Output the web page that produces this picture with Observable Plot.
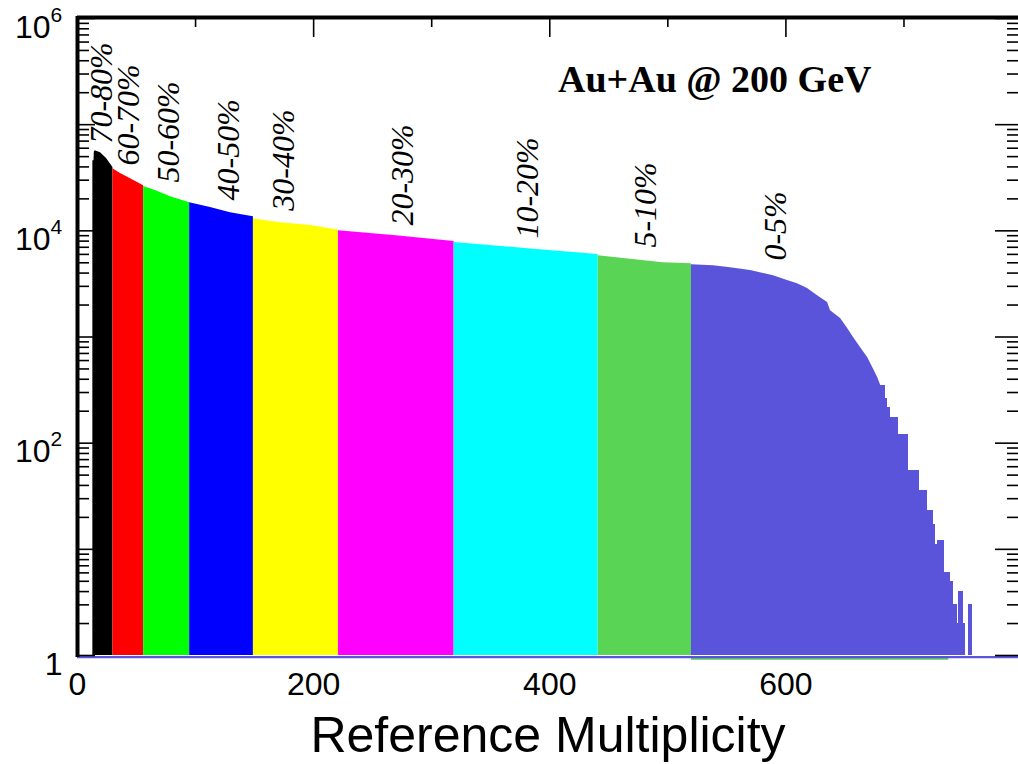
<!DOCTYPE html>
<html><head><meta charset="utf-8">
<script src="https://cdn.jsdelivr.net/npm/d3@7"></script>
<script src="https://cdn.jsdelivr.net/npm/@observablehq/plot@0.6"></script>
<style>
html,body{margin:0;padding:0;background:#fff;overflow:hidden}
</style></head><body><div id="chart"></div>
<script>
// ---- data ----
const classLabels = ["70-80%","60-70%","50-60%","40-50%","30-40%","20-30%","10-20%","5-10%","0-5%"];
const classColors = ["#000000","#ff0000","#00ff00","#0000ff","#ffff00","#ff00ff","#00ffff","#59d454","#5954d9"];

// upper envelope of each centrality-class histogram (reference multiplicity, counts)
const envelopeMult = [
  [13, 14, 14.2, 15, 19.5, 24.6, 30],
  [30, 36.4, 44.9, 56],
  [56, 66, 78.8, 95],
  [95, 112.6, 129.6, 149],
  [149, 172, 197.3, 221],
  [221, 270, 319],
  [319, 384, 441],
  [441, 496, 520],
  [520, 538.7, 553.1, 570, 589.5, 601.3, 609.8, 618.3, 626.8, 635.3, 637.8, 646.3, 652.3, 657.4, 663.3, 669.2, 673.5, 677.7, 680.4]
];
const envelopeCount = [
  [45700, 45700, 55000, 56900, 54500, 47900, 39400],
  [38500, 34700, 30900, 26600],
  [26100, 24000, 20900, 18400],
  [18400, 16600, 14800, 13600],
  [13000, 11900, 11200, 10200],
  [10000, 9000, 7940],
  [7760, 6760, 5970],
  [5830, 5010, 4900],
  [4790, 4680, 4500, 4220, 3780, 3400, 3180, 2860, 2450, 2110, 1770, 1490, 1200, 986, 794, 640, 515, 415, 348]
];
// high-multiplicity tail of the 0-5% histogram (bins)
const tailLo    = [680, 684, 686, 689, 695, 704, 713, 720, 725, 727, 728, 734, 739, 742, 745, 746, 750, 755];
const tailHi    = [684, 686, 689, 695, 704, 713, 720, 725, 727, 728, 734, 739, 742, 745, 746, 750, 752, 758];
const tailCount = [347, 263, 216, 174, 121, 55,  36,  23,  17,  11,  12,  6,   5,   3,   2,   4,   2,   3];

// rotated class labels (anchor at start of text)
const labelMult  = [20.3, 43.2, 77.1, 127.9, 174.5, 275.3, 381.1, 481.1, 591.2];
const labelCount = [66400, 41200, 28500, 19300, 15500, 11200, 8460, 6960, 5250];

// axes
const xTickLabels = [0, 200, 400, 600];
const xTopMajor = [200, 400, 600];
const xTopMinor = [100, 300, 500, 700];
const yDecades = [1, 1e1, 1e2, 1e3, 1e4, 1e5, 1e6];
const yLabelDecades = [1e2, 1e4, 1e6];
const yLabelExponents = ["2", "4", "6"];
const yMinor = yDecades.slice(0, 6).flatMap(d => [2,3,4,5,6,7,8,9].map(k => k * d));

// ---- build tables ----
const areaData = envelopeMult.flatMap((xs, k) =>
  xs.map((m, i) => ({mult: m, count: envelopeCount[k][i], cls: classLabels[k]})));
const tailData = tailLo.map((lo, i) => ({lo, hi: tailHi[i], count: tailCount[i]}));
const labelData = classLabels.map((t, i) => ({t, mult: labelMult[i], count: labelCount[i]}));

const W = 1018, H = 764, ML = 77, MR = 0, MT = 18, MB = 109;
const FW = W - ML - MR, FH = H - MT - MB;
const serif = "'Liberation Serif', 'Times New Roman', serif";

const chart = Plot.plot({
  width: W, height: H,
  marginLeft: ML, marginRight: MR, marginTop: MT, marginBottom: MB,
  style: {fontFamily: "'Liberation Sans', Arial, sans-serif", background: "white", color: "black", overflow: "visible"},
  x: {domain: [0, 797]},
  y: {type: "log", domain: [1, 1e6], axis: null},
  color: {domain: classLabels, range: classColors},
  marks: [
    Plot.areaY(areaData, {x: "mult", y1: 1, y2: "count", z: "cls", fill: "cls"}),
    Plot.rectY(tailData, {x1: "lo", x2: "hi", y1: 1, y2: "count", fill: classColors[8], shapeRendering: "crispEdges"}),
    // baselines of the histograms
    Plot.ruleY([1], {x1: 520, x2: 738, stroke: classColors[7], strokeWidth: 1.8, dy: 3.3}),
    Plot.ruleY([1], {stroke: classColors[8], strokeWidth: 2.2, dy: 1.6}),
    // frame
    Plot.ruleY([1e6], {stroke: "black", strokeWidth: 4, dy: -1}),
    Plot.ruleX([0], {y1: 1, y2: 1e6, stroke: "black", strokeWidth: 4, strokeLinecap: "square"}),
    // left ticks
    Plot.ruleY(yDecades, {insetRight: FW - 18, stroke: "black", strokeWidth: 1.6}),
    Plot.ruleY(yMinor, {insetRight: FW - 12, stroke: "black", strokeWidth: 1.6}),
    // right ticks
    Plot.ruleY(yDecades, {insetLeft: FW - 23, stroke: "black", strokeWidth: 1.6}),
    Plot.ruleY(yMinor, {insetLeft: FW - 11, stroke: "black", strokeWidth: 1.6}),
    // top ticks
    Plot.ruleX(xTopMajor, {insetBottom: FH - 19, stroke: "black", strokeWidth: 1.6}),
    Plot.ruleX(xTopMinor, {insetBottom: FH - 9, stroke: "black", strokeWidth: 1.6}),
    // x tick labels
    Plot.axisX({ticks: xTickLabels, tickSize: 0, tickPadding: 17, fontSize: 32, label: null}),
    // y tick labels
    Plot.text([1], {y: d => d, text: ["1"], frameAnchor: "left", textAnchor: "end", lineAnchor: "bottom", dx: -15, dy: 19, fontSize: 32}),
    Plot.text(yLabelDecades, {y: d => d, text: () => "10", frameAnchor: "left", textAnchor: "end", lineAnchor: "bottom", dx: -27, dy: 19, fontSize: 32}),
    Plot.text(yLabelDecades, {y: d => d, text: yLabelExponents, frameAnchor: "left", textAnchor: "start", lineAnchor: "bottom", dx: -27, dy: 3, fontSize: 21}),
    // x title
    Plot.text(["Reference Multiplicity"], {text: d => d, frameAnchor: "bottom", lineAnchor: "bottom", dy: 96, fontSize: 50}),
    // annotation
    Plot.text(["Au+Au @ 200 GeV"], {text: d => d, frameAnchor: "top-right", textAnchor: "end", lineAnchor: "bottom", dx: -147, dy: 73,
      fontFamily: serif, fontWeight: "bold", fontSize: 38}),
    // class labels
    Plot.text(labelData, {x: "mult", y: "count", text: "t", rotate: -90, textAnchor: "start",
      fontFamily: serif, fontStyle: "italic", fontSize: 32})
  ]
});
document.getElementById("chart").appendChild(chart);
</script>
</body></html>
